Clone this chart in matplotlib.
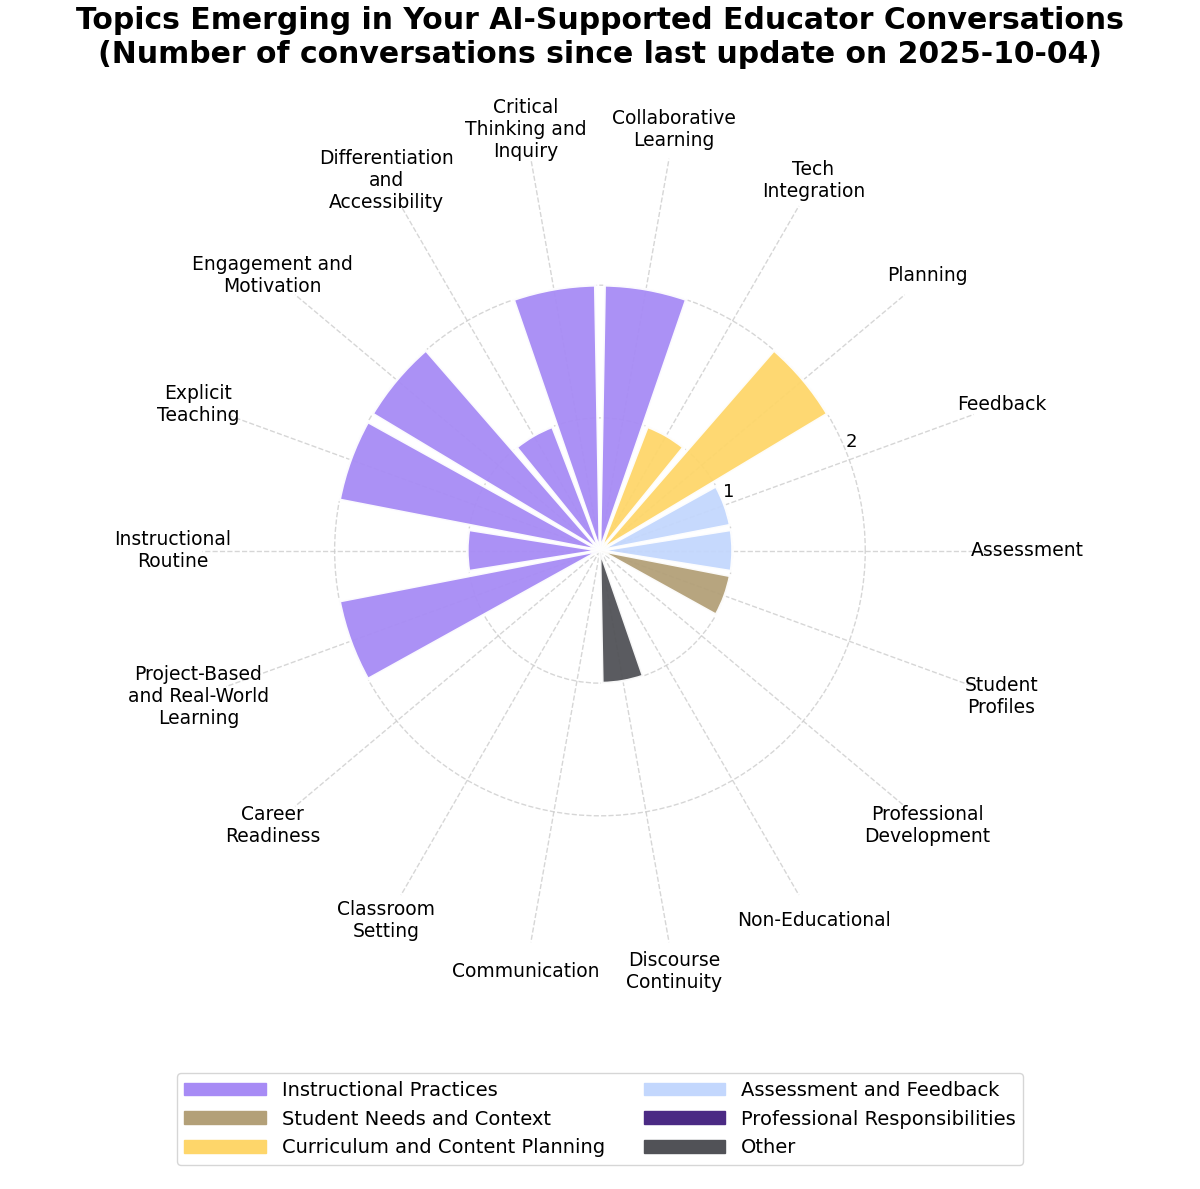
import numpy as np
import matplotlib.pyplot as plt
from matplotlib.patches import Patch

topics = ["Assessment", "Feedback", "Planning", "Tech\nIntegration", "Collaborative\nLearning",
          "Critical\nThinking and\nInquiry", "Differentiation\nand\nAccessibility",
          "Engagement and\nMotivation", "Explicit\nTeaching", "Instructional\nRoutine",
          "Project-Based\nand Real-World\nLearning", "Career\nReadiness", "Classroom\nSetting",
          "Communication", "Discourse\nContinuity", "Non-Educational",
          "Professional\nDevelopment", "Student\nProfiles"]
counts = [1, 1, 2, 1, 2, 2, 1, 2, 2, 1, 2, 0, 0, 0, 1, 0, 0, 1]
groups = ["Assessment and Feedback", "Assessment and Feedback",
          "Curriculum and Content Planning", "Curriculum and Content Planning",
          "Instructional Practices", "Instructional Practices", "Instructional Practices",
          "Instructional Practices", "Instructional Practices", "Instructional Practices",
          "Instructional Practices", "Student Needs and Context", "Student Needs and Context",
          "Professional Responsibilities", "Other", "Other",
          "Professional Responsibilities", "Student Needs and Context"]
group_colors = {
    "Instructional Practices": "#a78bf5",
    "Student Needs and Context": "#b3a078",
    "Curriculum and Content Planning": "#fed66a",
    "Assessment and Feedback": "#c3d7fd",
    "Professional Responsibilities": "#4b2a84",
    "Other": "#515257",
}
legend_order = ["Instructional Practices", "Student Needs and Context",
                "Curriculum and Content Planning", "Assessment and Feedback",
                "Professional Responsibilities", "Other"]

n = len(topics)
theta = np.arange(n) * 2 * np.pi / n
width = 2 * np.pi / n * 0.9

fig = plt.figure(figsize=(12, 11.89), dpi=100)
ax = fig.add_axes([0.5 - 0.3317, 0.537 - 0.3347, 0.6633, 0.6694], projection="polar")
ax.bar(theta, counts, width=width, color=[group_colors[g] for g in groups],
       edgecolor="white", linewidth=2, alpha=0.95, zorder=3)
ax.set_ylim(0, 3.0)
ax.set_yticks([1, 2])
ax.set_yticklabels(["1", "2"], fontsize=13)
ax.set_rlabel_position(22)
ax.set_xticks(theta)
ax.set_xticklabels([])
ax.grid(True, color="#cccccc", linestyle="--", linewidth=1, alpha=0.8)
ax.spines["polar"].set_visible(False)
for t, lab in zip(theta, topics):
    ax.text(t, 3.22, lab, ha="center", va="center", fontsize=13.5, clip_on=False)

fig.suptitle("Topics Emerging in Your AI-Supported Educator Conversations\n"
             "(Number of conversations since last update on 2025-10-04)",
             fontsize=21.5, fontweight="bold", y=0.995)
handles = [Patch(color=group_colors[g], label=g) for g in legend_order]
fig.legend(handles=handles, loc="lower center", ncol=2, fontsize=14,
           bbox_to_anchor=(0.5, 0.012), handlelength=4.2, handleheight=0.6)
fig.savefig("out.png", dpi=100)
